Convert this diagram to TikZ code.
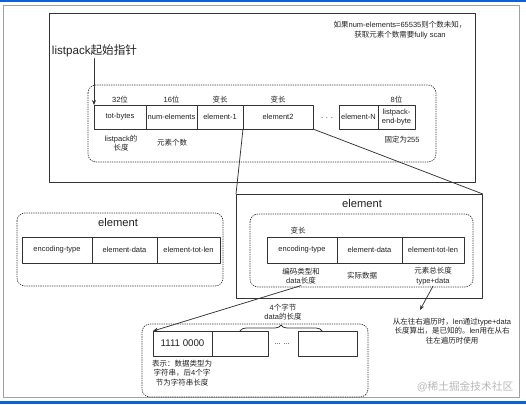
\documentclass[tikz,border=0pt]{standalone}
\usepackage{fontspec}
\setmainfont{Liberation Sans}
\newfontfamily\zhfont{Noto Sans CJK SC}
\newcommand{\zh}[1]{{\zhfont #1}}
\usepackage{tikz}
\usetikzlibrary{arrows.meta,decorations.pathreplacing,positioning}
\definecolor{lpInk}{HTML}{222222}
\definecolor{lpLine}{HTML}{333333}
\definecolor{lpFrame}{HTML}{A0A0A0}
\definecolor{lpBlue}{HTML}{0B62D6}
\definecolor{lpMark}{HTML}{B8B8B8}
\tikzset{
  lp diagram/.style={font=\fontsize{7.5}{9.5}\selectfont, text=lpInk,
    line cap=round, line join=round, line width=0.75pt},
  lp cell/.style={draw=lpLine, fill=white, minimum height=24pt,
    inner sep=1pt, outer sep=0pt, align=center},
  lp label/.style={align=center, inner sep=1pt},
  lp title/.style={font=\fontsize{11.2}{13}\selectfont},
  lp panel/.style={draw=lpLine, line width=0.8pt},
  lp group/.style={draw=lpLine, dash pattern=on 0.8pt off 1.5pt,
    rounded corners=8pt},
  lp arrow/.style={-{Stealth[length=5pt,width=4pt]}, draw=lpLine},
  lp link/.style={draw=lpLine},
  lp brace/.style={draw=lpLine, decorate, decoration={brace, amplitude=6pt}}
}

\begin{document}
\begin{tikzpicture}[lp diagram,x=1pt,y=-1pt]
\useasboundingbox (0,0) rectangle (526,404);
\fill[lpBlue] (0,0) rectangle (526,2.5);
\fill[lpBlue] (0,400.5) rectangle (526,404);
\draw[draw=lpFrame,line width=1pt] (3,6) rectangle (519,397);

% listpack layout
\draw[lp panel] (49,13) rectangle (475,182);
\node[lp label] (scannote) at (400,30)
  {\zh{如果}num-elements=65535\zh{则个数未知，}\\\zh{获取元素个数需要}fully scan};
\node[font=\fontsize{11.6}{13}\selectfont,inner sep=1pt] (ptr) at (94.5,51) {listpack\zh{起始指针}};
\draw[lp group] (88,85) rectangle (436,162);
\node[lp cell,minimum width=52pt,anchor=north west] (totbytes) at (94,105) {tot-bytes};
\node[lp cell,minimum width=51pt,right=0pt of totbytes] (numelems) {num-elements};
\node[lp cell,minimum width=46pt,right=0pt of numelems] (elemone) {element-1};
\node[lp cell,minimum width=70pt,right=0pt of elemone] (elemtwo) {element2};
\node (rowdots) at (327,118) {. . .};
\node[lp cell,minimum width=39pt,anchor=north west] (elemn) at (339,105) {element-N};
\node[lp cell,minimum width=37pt,right=0pt of elemn] (endbyte) {listpack-\\end-byte};
\draw[lp arrow] (ptr.south -| totbytes.north west) -- (totbytes.north west);
\node[lp label,above=1pt of totbytes] {32\zh{位}};
\node[lp label,above=1pt of numelems] {16\zh{位}};
\node[lp label,above=1pt of elemone] {\zh{变长}};
\node[lp label,above=1pt of elemtwo] {\zh{变长}};
\node[lp label,above=1pt of endbyte] {8\zh{位}};
\node[lp label] (totlabel) at (121,143) {listpack\zh{的}\\\zh{长度}};
\node[lp label] (numlabel) at (172,143) {\zh{元素个数}};
\node[lp label] (endlabel) at (402,140) {\zh{固定为}255};

% element, zoomed
\node[lp panel,minimum width=246pt,minimum height=104pt,inner sep=0pt,anchor=north west] (elpanel) at (236,194) {};
\draw[lp link] (elemtwo.south west) -- (elpanel.north west);
\draw[lp link] (elemtwo.south east) -- (elpanel.north east);
\node[lp title] (eltitle) at (362,203) {element};
\draw[lp group] (250,214) rectangle (473,287);
\node[lp label] at (298,231) {\zh{变长}};
\node[lp cell,minimum width=70pt,minimum height=26pt,anchor=north west] (enctype) at (267,237) {encoding-type};
\node[lp cell,minimum width=65pt,minimum height=26pt,right=0pt of enctype] (eldata) {element-data};
\node[lp cell,minimum width=62pt,minimum height=26pt,right=0pt of eldata] (eltotlen) {element-tot-len};
\node[lp label] (enclabel) at (301,276) {\zh{编码类型和}\\data\zh{长度}};
\node[lp label] (datalabel) at (362,276) {\zh{实际数据}};
\node[lp label] (lenlabel) at (433,276) {\zh{元素总长度}\\type+data};

% element, left
\draw[lp group] (17,213) rectangle (223,286);
\node[lp title] (lefttitle) at (118,222) {element};
\node[lp cell,minimum width=70pt,minimum height=26pt,anchor=north west] (lenc) at (22,237) {encoding-type};
\node[lp cell,minimum width=65pt,minimum height=26pt,right=0pt of lenc] (ldata) {element-data};
\node[lp cell,minimum width=63pt,minimum height=26pt,right=0pt of ldata] (ltotlen) {element-tot-len};

% string encoding
\draw[lp group] (142,324) rectangle (368,397);
\node[lp cell,minimum width=59pt,minimum height=25pt,anchor=north west,font=\fontsize{9.7}{11}\selectfont] (strhead) at (153,331) {1111 0000};
\node[lp cell,minimum width=56pt,minimum height=25pt,right=0pt of strhead] (strlen) {};
\node (strdots) at (282,344) {... ...};
\node[lp cell,minimum width=59pt,minimum height=25pt,anchor=north west] (strtail) at (298,331) {};
\draw[lp brace] (strlen.north) -- ([xshift=24pt]strtail.north west);
\node[lp label] (bracelabel) at (283,312) {4\zh{个字节}\\data\zh{的长度}};
\node[lp label] (headnote) at (182,373)
  {\zh{表示：数据类型为}\\\zh{字符串，后}4\zh{个字}\\\zh{节为字符串长度}};
\draw[lp arrow] (enclabel.south) -- (strhead.north west);

% reverse walk
\node[lp label] (revnote) at (452,331)
  {\zh{从左往右遍历时，}len\zh{通过}type+data\\\zh{长度算出，是已知的。}len\zh{用在从右}\\\zh{往左遍历时使用}};
\coordinate (revtip) at (420,310);
\draw[lp arrow] (lenlabel.south) -- (revtip);
\node[text=lpMark,font=\fontsize{10.7}{12}\selectfont] (mark) at (465,387) {@\zh{稀土掘金技术社区}};
\end{tikzpicture}
\end{document}
